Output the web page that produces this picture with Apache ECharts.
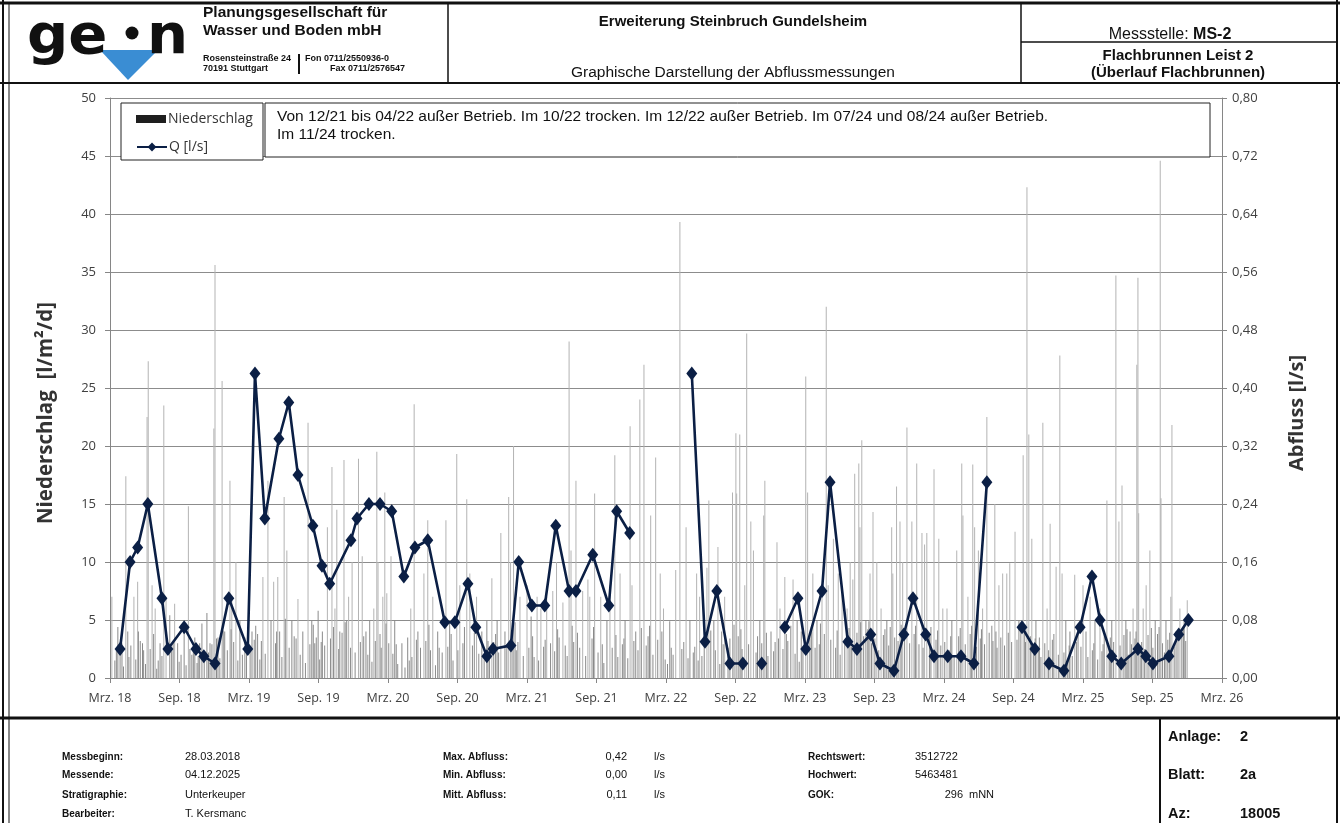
<!DOCTYPE html>
<html><head><meta charset="utf-8">
<script src="https://cdn.jsdelivr.net/npm/echarts@6/dist/echarts.min.js"></script>
<style>html,body{margin:0;padding:0;background:#fff}#c{width:1340px;height:823px}</style>
</head><body><div id="c"></div>
<script>
// ---------- DATA ----------
const xLabels = ['Mrz. 18','Sep. 18','Mrz. 19','Sep. 19','Mrz. 20','Sep. 20','Mrz. 21','Sep. 21','Mrz. 22','Sep. 22','Mrz. 23','Sep. 23','Mrz. 24','Sep. 24','Mrz. 25','Sep. 25','Mrz. 26'];
const rightLabels = ['0,00','0,08','0,16','0,24','0,32','0,40','0,48','0,56','0,64','0,72','0,80'];

// Abfluss Q [l/s]; null = keine Messung (außer Betrieb / trocken)
const qDates = ['2018-03-28','2018-04-23','2018-05-13','2018-06-09','2018-07-16','2018-08-01','2018-09-13','2018-10-14','2018-11-04','2018-12-03',
'2019-01-09','2019-02-26','2019-03-17','2019-04-12','2019-05-19','2019-06-14','2019-07-08','2019-08-17','2019-09-10','2019-09-30','2019-11-25','2019-12-11',
'2020-01-12','2020-02-10','2020-03-11','2020-04-12','2020-05-11','2020-06-14','2020-07-29','2020-08-25','2020-09-28','2020-10-19','2020-11-17','2020-12-03',
'2021-01-20','2021-02-09','2021-03-14','2021-04-17','2021-05-16','2021-06-20','2021-07-08','2021-08-22','2021-10-03','2021-10-24','2021-11-27',
'2022-02-01','2022-05-08','2022-06-12','2022-07-13','2022-08-17','2022-09-20','2022-10-15','2022-11-09','2022-12-15',
'2023-01-09','2023-02-12','2023-03-03','2023-04-15','2023-05-06','2023-06-22','2023-07-16','2023-08-22','2023-09-15','2023-10-22','2023-11-17','2023-12-11',
'2024-01-14','2024-02-05','2024-03-11','2024-04-15','2024-05-19','2024-06-22','2024-08-01','2024-09-23','2024-10-27','2024-11-15','2024-12-03',
'2025-01-12','2025-02-22','2025-03-25','2025-04-15','2025-05-16','2025-06-10','2025-07-24','2025-08-14','2025-09-02','2025-10-14','2025-11-09','2025-12-04'];
const qValues = [0.04,0.16,0.18,0.24,0.11,0.04,0.07,0.04,0.03,0.02,
0.11,0.04,0.42,0.22,0.33,0.38,0.28,0.21,0.155,0.13,0.19,0.22,
0.24,0.24,0.23,0.14,0.18,0.19,0.077,0.077,0.13,0.07,0.03,0.04,
0.045,0.16,0.10,0.10,0.21,0.12,0.12,0.17,0.10,0.23,0.20,
null,0.42,0.05,0.12,0.02,0.02,null,0.02,null,
0.07,0.11,0.04,0.12,0.27,0.05,0.04,0.06,0.02,0.01,0.06,0.11,
0.06,0.03,0.03,0.03,0.02,0.27,null,0.07,0.04,null,0.02,
0.01,0.07,0.14,0.08,0.03,0.02,0.04,0.03,0.02,0.03,0.06,0.08];

// Niederschlag [l/m²/d] – größere Tageswerte
const rainMain = [['2018-03-06',7.0],['2018-03-22',4.4],['2018-04-02',3.0],['2018-04-12',17.4],['2018-04-17',4.0],['2018-05-03',7.0],['2018-05-13',8.3],['2018-05-15',4.0],['2018-05-26',3.0],['2018-06-07',22.5],['2018-06-10',27.3],['2018-06-20',8.0],['2018-06-28',6.0],['2018-07-11',3.0],['2018-07-21',23.5],['2018-07-27',6.8],['2018-08-06',5.4],['2018-08-19',6.4],['2018-08-27',3.0],['2018-09-13',4.0],['2018-09-24',14.8],['2018-10-03',2.0],['2018-10-11',3.5],['2018-10-24',3.0],['2018-10-30',4.7],['2018-11-12',5.6],['2018-11-20',3.0],['2018-11-30',21.5],['2018-12-03',35.6],['2018-12-11',3.5],['2018-12-22',25.6],['2018-12-29',4.0],
['2019-01-12',17.0],['2019-01-17',7.0],['2019-01-28',10.0],['2019-02-07',5.0],['2019-02-19',3.5],['2019-03-09',4.0],['2019-03-24',3.8],['2019-04-07',8.7],['2019-04-20',17.0],['2019-04-28',5.0],['2019-05-05',8.3],['2019-05-16',8.7],['2019-05-21',4.0],['2019-06-02',15.6],['2019-06-09',11.0],['2019-06-22',5.0],['2019-07-08',6.8],['2019-07-21',4.0],['2019-08-04',22.0],['2019-08-14',5.0],['2019-08-22',3.0],['2019-08-31',5.8],['2019-09-11',4.0],['2019-09-24',13.0],['2019-10-06',18.2],['2019-10-14',6.0],['2019-10-19',14.5],['2019-10-27',4.0],['2019-11-07',18.8],['2019-11-14',5.0],['2019-11-19',7.0],['2019-11-28',10.0],['2019-12-15',18.9],['2019-12-25',10.5],
['2020-01-04',4.0],['2020-01-14',5.0],['2020-01-25',6.0],['2020-02-02',19.5],['2020-02-05',10.0],['2020-02-17',7.0],['2020-02-22',16.0],['2020-02-27',7.3],['2020-03-09',10.5],['2020-03-19',5.0],['2020-04-07',3.0],['2020-04-22',3.5],['2020-04-30',6.0],['2020-05-09',23.6],['2020-05-19',4.0],['2020-06-04',9.0],['2020-06-14',13.6],['2020-06-27',7.0],['2020-07-10',4.0],['2020-08-01',13.6],['2020-08-11',5.0],['2020-08-30',19.3],['2020-09-07',8.0],['2020-09-25',15.4],['2020-10-03',9.0],['2020-10-21',7.0],['2020-11-04',4.0],['2020-11-17',5.0],['2020-11-30',8.6],['2020-12-14',5.0],['2020-12-24',12.5],
['2021-01-04',4.0],['2021-01-14',15.6],['2021-01-19',10.0],['2021-01-27',20.0],['2021-02-12',7.0],['2021-03-01',8.0],['2021-03-12',5.3],['2021-03-28',7.0],['2021-04-07',6.0],['2021-04-22',7.0],['2021-05-08',7.5],['2021-05-18',10.0],['2021-06-04',6.5],['2021-06-20',29.0],['2021-06-25',11.0],['2021-07-08',17.0],['2021-07-26',7.5],['2021-08-09',8.5],['2021-08-14',7.0],['2021-08-27',15.9],['2021-09-12',7.0],['2021-09-28',5.0],['2021-10-06',8.0],['2021-10-19',19.2],['2021-11-02',9.0],['2021-11-15',5.0],['2021-11-28',21.7],['2021-12-03',8.0],['2021-12-13',4.0],['2021-12-24',24.0],
['2022-01-04',27.0],['2022-01-22',14.0],['2022-02-04',19.0],['2022-02-15',9.0],['2022-02-23',6.0],['2022-03-11',4.9],['2022-03-27',9.3],['2022-04-07',39.3],['2022-04-23',13.0],['2022-05-03',5.0],['2022-05-21',9.0],['2022-05-29',7.0],['2022-06-17',9.5],['2022-06-22',15.3],['2022-07-05',5.0],['2022-07-16',11.3],['2022-07-26',4.0],['2022-08-03',7.0],['2022-08-24',16.0],['2022-09-02',21.1],['2022-09-04',15.9],['2022-09-12',21.0],['2022-09-25',8.0],['2022-09-30',29.7],['2022-10-11',13.5],['2022-10-18',11.0],['2022-11-04',5.0],['2022-11-14',14.0],['2022-11-17',17.0],['2022-12-03',4.0],['2022-12-19',11.7],['2022-12-27',6.0],
['2023-01-09',8.7],['2023-01-25',4.5],['2023-01-31',8.5],['2023-02-10',5.0],['2023-02-20',4.0],['2023-03-03',26.0],['2023-03-08',16.0],['2023-03-22',9.0],['2023-04-02',5.0],['2023-04-15',7.0],['2023-04-26',32.0],['2023-05-01',8.0],['2023-05-15',12.0],['2023-05-28',9.0],['2023-06-07',7.5],['2023-06-20',6.0],['2023-06-28',10.0],['2023-07-05',8.5],['2023-07-10',17.6],['2023-07-21',18.5],['2023-07-24',13.0],['2023-07-29',20.5],['2023-08-09',5.0],['2023-08-20',9.0],['2023-08-28',14.3],['2023-09-07',10.0],['2023-09-18',6.0],['2023-10-03',5.0],['2023-10-16',13.0],['2023-10-19',9.0],['2023-10-29',16.5],['2023-11-07',13.5],['2023-11-14',10.0],['2023-11-25',21.6],['2023-12-08',13.5],['2023-12-21',18.5],
['2024-01-04',12.5],['2024-01-11',11.5],['2024-01-17',12.5],['2024-02-05',18.0],['2024-02-17',12.0],['2024-02-27',6.0],['2024-03-09',6.0],['2024-03-22',5.0],['2024-04-04',11.0],['2024-04-17',18.5],['2024-04-20',14.0],['2024-05-03',7.0],['2024-05-16',18.4],['2024-05-21',13.0],['2024-05-31',11.0],['2024-06-11',6.0],['2024-06-22',22.5],['2024-07-05',4.5],['2024-07-13',15.0],['2024-07-24',8.0],['2024-08-03',9.0],['2024-08-14',9.0],['2024-08-22',9.9],['2024-09-05',12.6],['2024-09-15',5.0],['2024-09-26',19.2],['2024-10-06',42.3],['2024-10-11',21.0],['2024-10-19',12.0],['2024-10-30',5.0],['2024-11-17',22.0],['2024-11-28',6.0],['2024-12-06',13.3],['2024-12-22',9.6],
['2025-01-01',27.8],['2025-01-07',9.0],['2025-01-17',5.0],['2025-01-28',4.0],['2025-02-09',8.9],['2025-02-17',4.0],['2025-03-01',8.0],['2025-03-09',4.0],['2025-03-20',7.0],['2025-04-02',5.0],['2025-04-15',6.0],['2025-04-26',4.0],['2025-05-03',15.3],['2025-05-16',5.0],['2025-05-27',34.7],['2025-06-04',13.5],['2025-06-12',16.6],['2025-06-22',5.0],['2025-07-03',4.0],['2025-07-11',6.0],['2025-07-21',27.0],['2025-07-24',34.5],['2025-07-26',14.2],['2025-08-07',6.0],['2025-08-15',8.0],['2025-08-25',11.0],['2025-09-08',5.0],['2025-09-21',44.6],['2025-09-23',15.5],['2025-10-06',5.0],['2025-10-19',7.0],['2025-10-22',21.8],['2025-11-02',4.0],['2025-11-12',6.0],['2025-11-23',5.0],['2025-12-01',6.7]];

// Niederschlag – kleinere Tageswerte
const rainSmall = [['2018-03-14',1.5],['2018-03-28',2.2],['2018-04-06',1.0],['2018-04-25',2.8],['2018-05-08',1.6],['2018-05-20',3.2],['2018-06-03',1.2],['2018-06-15',2.5],['2018-07-02',0.8],['2018-07-16',1.9],['2018-08-11',2.3],['2018-08-31',1.4],['2018-09-05',2.0],['2018-09-18',1.1],['2018-10-07',2.6],['2018-10-17',1.3],['2018-11-05',1.8],['2018-11-25',2.9],['2018-12-07',3.4],['2018-12-16',1.7],
['2019-01-05',2.4],['2019-01-22',3.1],['2019-02-02',1.5],['2019-02-13',2.0],['2019-03-04',2.7],['2019-03-15',3.3],['2019-03-30',1.6],['2019-04-13',2.1],['2019-05-10',3.0],['2019-05-27',1.8],['2019-06-15',2.6],['2019-06-28',3.6],['2019-07-14',2.0],['2019-07-28',1.3],['2019-08-09',2.9],['2019-08-26',3.5],['2019-09-04',1.6],['2019-09-17',2.8],['2019-10-02',3.4],['2019-10-24',2.5],['2019-11-02',3.9],['2019-11-24',2.6],['2019-12-06',2.2],['2019-12-20',3.1],
['2020-01-09',2.0],['2020-01-20',1.4],['2020-02-10',3.8],['2020-02-13',2.6],['2020-03-03',3.0],['2020-03-14',2.1],['2020-03-27',1.2],['2020-04-15',0.9],['2020-05-03',1.8],['2020-05-26',2.6],['2020-06-09',3.2],['2020-06-21',2.4],['2020-07-04',1.1],['2020-07-22',2.2],['2020-08-06',2.7],['2020-08-20',1.5],['2020-09-02',2.4],['2020-09-15',3.0],['2020-10-10',2.8],['2020-10-27',2.1],['2020-11-10',1.6],['2020-11-24',2.5],['2020-12-05',3.1],['2020-12-18',2.2],
['2021-01-09',2.9],['2021-01-23',3.5],['2021-02-03',2.4],['2021-02-20',1.9],['2021-03-06',2.6],['2021-03-20',1.8],['2021-04-01',1.5],['2021-04-14',2.7],['2021-05-02',3.0],['2021-05-13',2.3],['2021-05-25',3.5],['2021-06-10',2.8],['2021-06-15',1.9],['2021-07-02',3.1],['2021-07-18',2.6],['2021-08-03',1.9],['2021-08-20',3.4],['2021-09-05',2.2],['2021-09-20',1.3],['2021-10-12',2.6],['2021-10-27',1.8],['2021-11-08',2.9],['2021-11-22',1.7],['2021-12-08',3.2],['2021-12-19',2.4],
['2022-01-10',2.8],['2022-01-15',3.6],['2022-01-28',2.0],['2022-02-09',3.3],['2022-02-27',1.6],['2022-03-05',1.2],['2022-03-20',2.0],['2022-04-12',2.5],['2022-04-28',1.7],['2022-05-12',2.2],['2022-05-25',1.5],['2022-06-04',1.9],['2022-06-10',3.0],['2022-07-09',2.4],['2022-07-21',1.2],['2022-08-12',2.6],['2022-08-17',3.4],['2022-09-08',3.6],['2022-09-18',2.5],['2022-10-05',2.9],['2022-10-25',2.2],['2022-11-09',3.0],['2022-11-25',1.9],['2022-12-10',2.3],['2022-12-14',3.1],
['2023-01-04',2.5],['2023-01-17',3.2],['2023-02-05',2.1],['2023-02-15',1.4],['2023-03-14',3.5],['2023-03-28',2.6],['2023-04-08',2.9],['2023-04-21',3.8],['2023-05-08',3.3],['2023-05-21',2.6],['2023-06-02',2.0],['2023-06-14',3.0],['2023-07-01',2.7],['2023-07-16',3.9],['2023-08-03',3.6],['2023-08-14',4.2],['2023-08-24',3.0],['2023-09-02',3.4],['2023-09-12',2.4],['2023-09-24',3.7],['2023-10-08',2.8],['2023-10-24',3.5],['2023-11-02',3.2],['2023-11-19',4.1],['2023-12-02',3.0],['2023-12-14',3.8],['2023-12-27',2.9],
['2024-01-07',2.6],['2024-01-24',3.9],['2024-02-10',3.3],['2024-02-22',2.8],['2024-03-03',3.1],['2024-03-15',2.4],['2024-03-28',1.9],['2024-04-09',3.6],['2024-04-26',2.9],['2024-05-09',3.8],['2024-05-26',2.7],['2024-06-05',3.4],['2024-06-16',2.9],['2024-06-28',3.9],['2024-07-08',3.2],['2024-07-19',2.6],['2024-07-29',3.5],['2024-08-08',2.8],['2024-08-27',3.1],['2024-09-10',3.3],['2024-09-20',4.0],['2024-10-02',3.1],['2024-10-15',3.6],['2024-10-24',2.4],['2024-11-05',2.7],['2024-11-12',1.8],['2024-11-22',3.0],['2024-12-02',2.4],['2024-12-12',3.3],['2024-12-28',2.0],
['2025-01-12',2.2],['2025-01-22',1.6],['2025-02-03',1.9],['2025-02-24',2.7],['2025-03-14',1.8],['2025-03-26',2.4],['2025-04-09',1.6],['2025-04-20',2.3],['2025-05-09',2.5],['2025-05-21',3.1],['2025-06-07',2.8],['2025-06-17',3.7],['2025-06-28',2.0],['2025-07-07',2.9],['2025-07-16',3.4],['2025-07-30',2.2],['2025-08-03',3.1],['2025-08-11',2.5],['2025-08-20',3.7],['2025-09-02',2.6],['2025-09-14',3.8],['2025-09-27',3.0],['2025-10-02',2.2],['2025-10-11',3.3],['2025-10-28',2.7],['2025-11-07',3.5],['2025-11-17',4.1],['2025-11-27',3.2]];

// Niederschlag – weitere kleine/mittlere Tageswerte
const rainExtra = [['2018-03-18',2.6],['2018-04-20',1.8],['2018-05-29',2.4],['2018-06-24',3.8],['2018-07-06',1.5],['2018-08-15',3.1],['2018-09-28',2.5],['2018-10-20',1.9],['2018-11-16',2.2],['2018-12-25',4.1],
['2019-01-15',4.2],['2019-02-23',2.3],['2019-03-19',4.5],['2019-04-03',3.2],['2019-05-13',4.0],['2019-06-05',5.1],['2019-07-03',3.4],['2019-08-18',4.6],['2019-09-08',3.1],['2019-10-10',4.4],['2019-11-10',4.8],['2019-12-29',3.6],
['2020-01-29',3.2],['2020-02-25',4.7],['2020-03-23',2.9],['2020-04-26',1.5],['2020-05-15',3.3],['2020-06-17',4.6],['2020-07-14',2.6],['2020-08-15',3.8],['2020-09-19',4.4],['2020-10-15',3.9],['2020-11-20',3.2],['2020-12-10',3.8],
['2021-01-31',4.8],['2021-02-07',3.1],['2021-03-16',3.6],['2021-04-18',3.3],['2021-05-21',4.2],['2021-06-28',4.5],['2021-07-12',3.9],['2021-08-24',4.4],['2021-09-16',2.9],['2021-10-22',3.7],['2021-11-12',3.4],['2021-12-28',4.3],
['2022-01-19',4.5],['2022-02-19',4.0],['2022-03-15',2.6],['2022-04-17',3.1],['2022-05-16',2.7],['2022-06-27',4.1],['2022-07-30',2.9],['2022-08-28',4.6],['2022-09-15',4.2],['2022-10-29',3.6],['2022-11-21',3.9],['2022-12-23',3.4],
['2023-01-13',3.8],['2023-02-24',2.6],['2023-03-18',4.4],['2023-04-11',4.7],['2023-05-25',4.1],['2023-06-25',4.3],['2023-07-26',4.8],['2023-08-17',4.9],['2023-09-28',4.2],['2023-10-12',4.4],['2023-11-10',4.6],['2023-12-18',4.5],
['2024-01-28',4.4],['2024-02-14',4.1],['2024-03-19',3.6],['2024-04-13',4.3],['2024-05-13',4.5],['2024-06-08',4.2],['2024-07-16',4.0],['2024-08-18',3.9],['2024-09-30',4.6],['2024-10-28',3.4],['2024-11-08',3.5],['2024-12-16',3.8],
['2025-01-26',2.8],['2025-02-13',3.1],['2025-03-30',3.0],['2025-04-23',2.9],['2025-05-12',3.5],['2025-06-25',4.2],['2025-07-19',4.0],['2025-08-29',4.3],['2025-09-18',4.4],['2025-10-16',3.9],['2025-11-21',4.5]];

// ---------- helpers ----------
// position in months since 01.03.2018 (axis unit)
function mpos(s){const p=s.split('-').map(Number);const dim=new Date(p[0],p[1],0).getDate();return (p[0]-2018)*12+(p[1]-3)+(p[2]-1)/dim;}

const FONT = "'Open Sans', sans-serif";
const HF = "'Liberation Sans', Arial, sans-serif";
const AX = '#868686';

const rainData = rainMain.concat(rainSmall, rainExtra).map(r=>[mpos(r[0]), r[1]]);
const qData = qDates.map((d,i)=>[mpos(d), qValues[i]==null?'-':qValues[i]]);

function T(x,y,text,font,align){return {type:'text',z:50,style:{x:x,y:y,text:text,font:font,fill:'#111',textAlign:align||'left',textVerticalAlign:'middle'}};}
function L(x1,y1,x2,y2,w){return {type:'line',z:60,shape:{x1:x1,y1:y1,x2:x2,y2:y2},style:{stroke:'#111',lineWidth:w}};}

const graphics = [
  // frame
  L(0,3,1340,3,3), L(3,0,3,823,2), L(9,3,9,823,1), L(1337,0,1337,823,2),
  L(0,83,1340,83,2), L(448,3,448,83,1.5), L(1021,3,1021,83,1.5), L(1021,42,1337,42,1.5),
  L(0,718,1340,718,3), L(1160,718,1160,823,2),
  // logo
  {type:'polygon',z:40,shape:{points:[[100,50],[158,50],[128,80]]},style:{fill:'#3a8dd3'}},
  {type:'text',z:50,x:27,y:39,scaleX:1.05,style:{x:0,y:0,text:'ge',font:"bold 55px 'DejaVu Sans'",fill:'#111',textAlign:'left',textVerticalAlign:'middle'}},
  {type:'circle',z:50,shape:{cx:132,cy:33,r:6.5},style:{fill:'#111'}},
  {type:'text',z:50,x:147,y:39,scaleX:1.05,style:{x:0,y:0,text:'n',font:"bold 55px 'DejaVu Sans'",fill:'#111',textAlign:'left',textVerticalAlign:'middle'}},
  T(203,13,'Planungsgesellschaft für',"bold 15.5px "+HF),
  T(203,31,'Wasser und Boden mbH',"bold 15.5px "+HF),
  T(203,59,'Rosensteinstraße 24',"bold 9px "+HF),
  T(203,69,'70191 Stuttgart',"bold 9px "+HF),
  L(299,54,299,74,2),
  T(305,59,'Fon 0711/2550936-0',"bold 9px "+HF),
  T(405,69,'Fax 0711/2576547',"bold 9px "+HF,'right'),
  // title block
  T(733,22,'Erweiterung Steinbruch Gundelsheim',"bold 15px "+HF,'center'),
  T(733,73,'Graphische Darstellung der Abflussmessungen',"15.5px "+HF,'center'),
  {type:'text',z:50,style:{x:1170,y:35,textAlign:'center',textVerticalAlign:'middle',text:'{a|Messstelle: }{b|MS-2}',rich:{a:{font:"16px "+HF,fill:'#111'},b:{font:"bold 16px "+HF,fill:'#111'}}}},
  T(1178,56,'Flachbrunnen Leist 2',"bold 15px "+HF,'center'),
  T(1178,73,'(Überlauf Flachbrunnen)',"bold 15px "+HF,'center'),
  // axis titles
  {type:'text',z:50,x:46,y:413,rotation:Math.PI/2,style:{x:0,y:0,text:'Niederschlag  [l/m²/d]',font:"bold 20.5px "+FONT,fill:'#333',textAlign:'center',textVerticalAlign:'middle'}},
  {type:'text',z:50,x:1297,y:413,rotation:Math.PI/2,style:{x:0,y:0,text:'Abfluss [l/s]',font:"bold 20px "+FONT,fill:'#333',textAlign:'center',textVerticalAlign:'middle'}},
  // legend frame & note box
  {type:'rect',z:3,shape:{x:121,y:103,width:142,height:57},style:{fill:'#fff',stroke:'#222',lineWidth:1}},
  {type:'rect',z:3,shape:{x:265,y:103,width:945,height:54},style:{fill:'#fff',stroke:'#222',lineWidth:1}},
  T(277,117,'Von 12/21 bis 04/22 außer Betrieb. Im 10/22 trocken. Im 12/22 außer Betrieb. Im 07/24 und 08/24 außer Betrieb.',"15.5px "+HF),
  T(277,135,'Im 11/24 trocken.',"15.5px "+HF),
  // footer
  T(62,757,'Messbeginn:',"bold 10px "+HF), T(185,757,'28.03.2018',"11px "+HF),
  T(62,775,'Messende:',"bold 10px "+HF), T(185,775,'04.12.2025',"11px "+HF),
  T(62,795,'Stratigraphie:',"bold 10px "+HF), T(185,795,'Unterkeuper',"11px "+HF),
  T(62,814,'Bearbeiter:',"bold 10px "+HF), T(185,814,'T. Kersmanc',"11px "+HF),
  T(443,757,'Max. Abfluss:',"bold 10px "+HF), T(627,757,'0,42',"11px "+HF,'right'), T(654,757,'l/s',"11px "+HF),
  T(443,775,'Min. Abfluss:',"bold 10px "+HF), T(627,775,'0,00',"11px "+HF,'right'), T(654,775,'l/s',"11px "+HF),
  T(443,795,'Mitt. Abfluss:',"bold 10px "+HF), T(627,795,'0,11',"11px "+HF,'right'), T(654,795,'l/s',"11px "+HF),
  T(808,757,'Rechtswert:',"bold 10px "+HF), T(915,757,'3512722',"11px "+HF),
  T(808,775,'Hochwert:',"bold 10px "+HF), T(915,775,'5463481',"11px "+HF),
  T(808,795,'GOK:',"bold 10px "+HF), T(963,795,'296',"11px "+HF,'right'), T(969,795,'mNN',"11px "+HF),
  T(1168,737,'Anlage:',"bold 14.5px "+HF), T(1240,737,'2',"bold 14.5px "+HF),
  T(1168,775,'Blatt:',"bold 14.5px "+HF), T(1240,775,'2a',"bold 14.5px "+HF),
  T(1168,814,'Az:',"bold 14.5px "+HF), T(1240,814,'18005',"bold 14.5px "+HF)
];

const chart = echarts.init(document.getElementById('c'), null, {renderer:'canvas'});
chart.setOption({
  animation:false,
  backgroundColor:'#fff',
  grid:{left:110,right:118,top:98,bottom:145},
  legend:[
    {data:[{name:'Niederschlag',icon:'rect',itemStyle:{color:'#1e1e1e'}}],left:136,top:112,itemWidth:30,itemHeight:8,itemGap:0,padding:0,z:10,
     textStyle:{fontFamily:FONT,fontSize:14,color:'#333',padding:[0,0,0,-3]}},
    {data:[{name:'Q [l/s]'}],left:136,top:140,itemWidth:30,itemHeight:11,padding:0,z:10,
     textStyle:{fontFamily:FONT,fontSize:14,color:'#333',padding:[0,0,0,-3]}}
  ],
  xAxis:{type:'value',min:0,max:96,interval:6,
    axisLine:{lineStyle:{color:AX}},axisTick:{show:true,length:5,lineStyle:{color:AX}},
    axisLabel:{margin:14,fontFamily:FONT,fontSize:12.5,color:'#404040',showMinLabel:true,showMaxLabel:true,formatter:v=>xLabels[Math.round(v/6)]||''},
    splitLine:{show:false}},
  yAxis:[
    {type:'value',min:0,max:50,interval:5,
     axisLine:{show:true,lineStyle:{color:AX}},axisTick:{show:true,length:5,lineStyle:{color:AX}},
     axisLabel:{margin:14,fontFamily:FONT,fontSize:13,color:'#404040'},
     splitLine:{show:true,lineStyle:{color:'#8c8c8c',width:1}}},
    {type:'value',min:0,max:0.8,interval:0.08,position:'right',
     axisLine:{show:true,lineStyle:{color:AX}},axisTick:{show:true,length:5,lineStyle:{color:AX}},
     axisLabel:{margin:10,fontFamily:FONT,fontSize:13,color:'#404040',formatter:v=>rightLabels[Math.round(v/0.08)]||''},
     splitLine:{show:false}}
  ],
  series:[
    {name:'Niederschlag',type:'bar',xAxisIndex:0,yAxisIndex:0,data:rainData,barWidth:1,z:2,
     itemStyle:{color:p=>(p.value[1]<6?'#8a8a8a':'#b3b3b3')},emphasis:{disabled:true}},
    {name:'Q [l/s]',type:'line',yAxisIndex:1,data:qData,connectNulls:false,z:5,
     symbol:'diamond',symbolSize:[11,14],showAllSymbol:true,
     lineStyle:{color:'#0b1f45',width:2.6},itemStyle:{color:'#0b1f45'},emphasis:{disabled:true}}
  ],
  graphic:{elements:graphics}
});
</script></body></html>
